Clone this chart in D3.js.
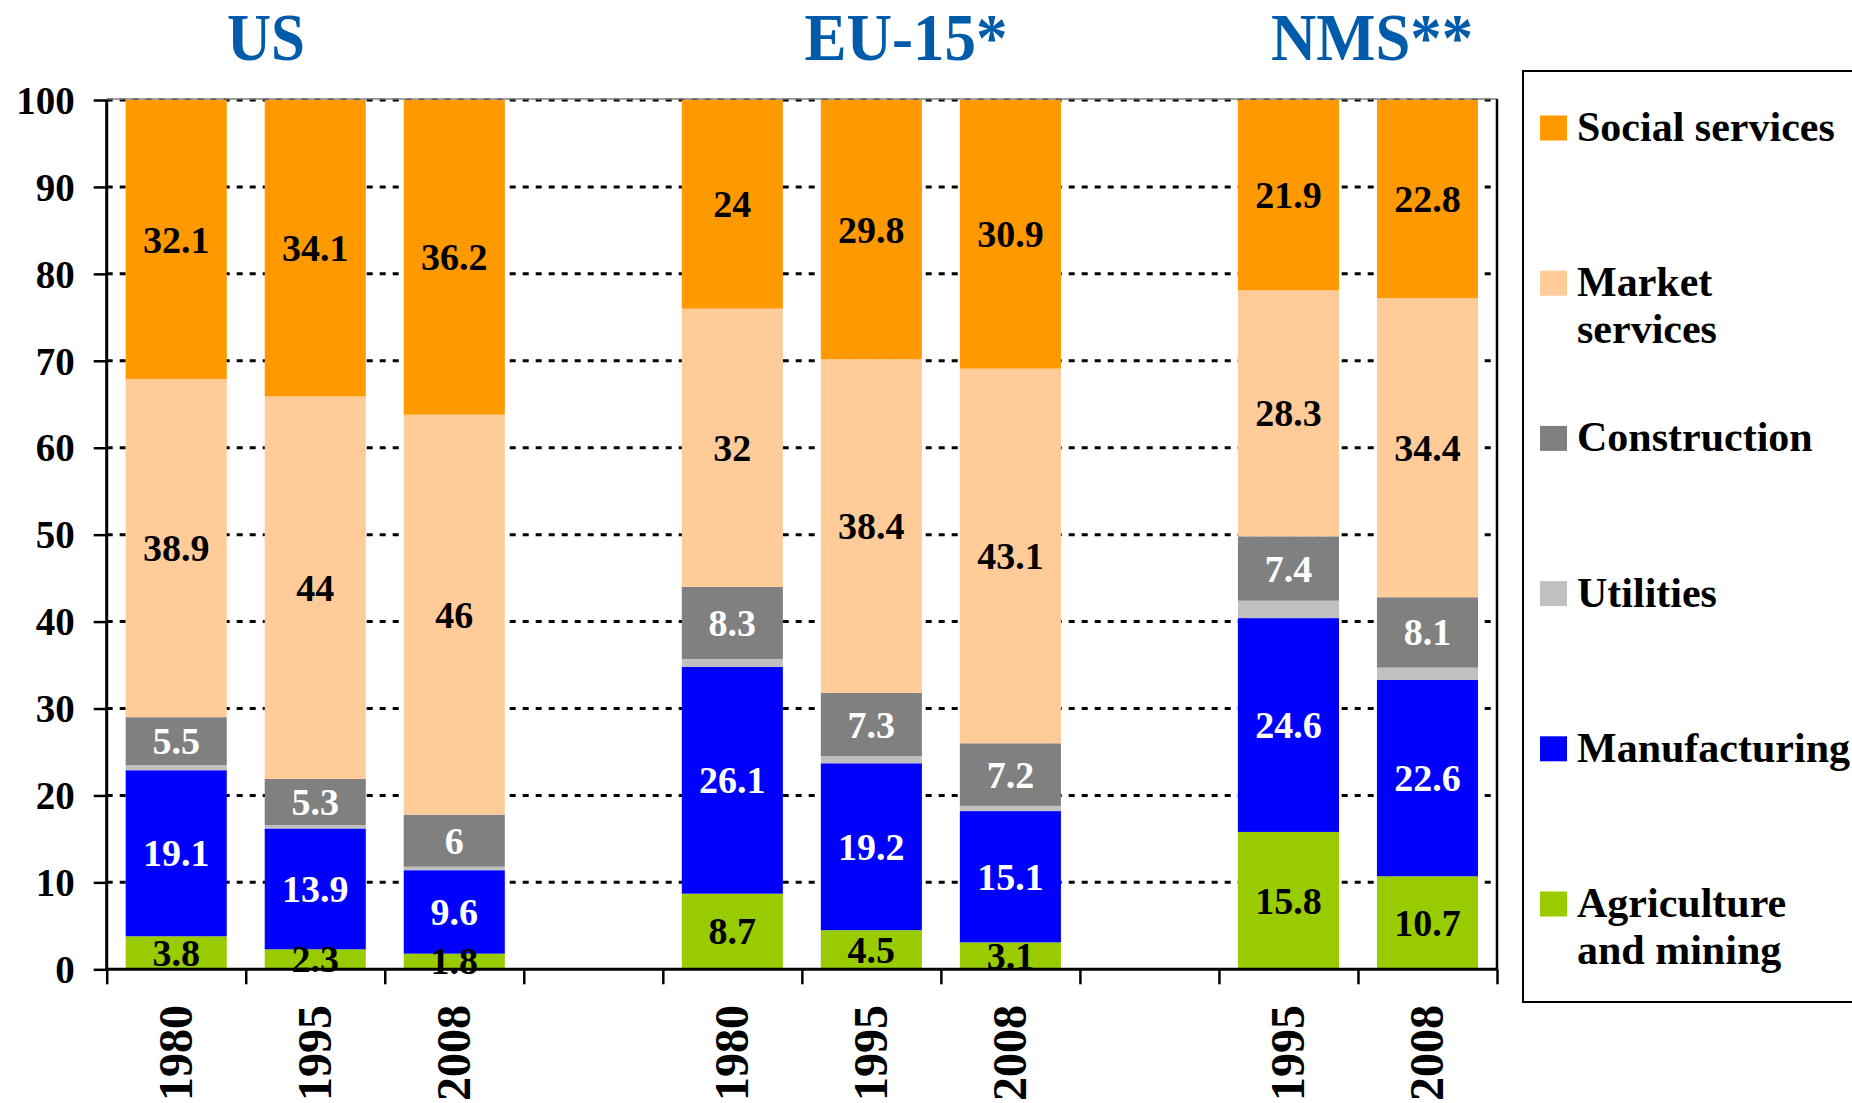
<!DOCTYPE html>
<html>
<head>
<meta charset="utf-8">
<script src="https://cdn.jsdelivr.net/npm/d3@7"></script>
<style>
  body { margin: 0; background: #fff; }
  text { font-family: "Liberation Serif", "Times New Roman", serif; font-weight: bold; }
</style>
</head>
<body>
<script>
// slots along the x axis (the gap slots separate the groups)
var slots = ["US 1980", "US 1995", "US 2008", "gap1", "EU 1980", "EU 1995", "EU 2008", "gap2", "NMS 1995", "NMS 2008"];
var years = ["1980", "1995", "2008", "", "1980", "1995", "2008", "", "1995", "2008"];
var groups = ["US", "EU-15*", "NMS**"];

// sector shares, bottom to top
var agriculture   = [3.8, 2.3, 1.8, null, 8.7, 4.5, 3.1, null, 15.8, 10.7];
var manufacturing = [19.1, 13.9, 9.6, null, 26.1, 19.2, 15.1, null, 24.6, 22.6];
var utilities     = [0.6, 0.4, 0.4, null, 0.9, 0.8, 0.6, null, 2.0, 1.4];
var construction  = [5.5, 5.3, 6, null, 8.3, 7.3, 7.2, null, 7.4, 8.1];
var market        = [38.9, 44, 46, null, 32, 38.4, 43.1, null, 28.3, 34.4];
var social        = [32.1, 34.1, 36.2, null, 24, 29.8, 30.9, null, 21.9, 22.8];

var yTicks = [0, 10, 20, 30, 40, 50, 60, 70, 80, 90, 100];

var series = [
  {name: "Agriculture and mining", lines: ["Agriculture", "and mining"], values: agriculture, color: "#99CC00", text: "#000"},
  {name: "Manufacturing", lines: ["Manufacturing"], values: manufacturing, color: "#0000FF", text: "#fff"},
  {name: "Utilities", lines: ["Utilities"], values: utilities, color: "#C0C0C0", text: null},
  {name: "Construction", lines: ["Construction"], values: construction, color: "#808080", text: "#fff"},
  {name: "Market services", lines: ["Market", "services"], values: market, color: "#FFCC99", text: "#000"},
  {name: "Social services", lines: ["Social services"], values: social, color: "#FF9900", text: "#000"}
];

var W = 1852, H = 1103;
var plotL = 106.7, plotR = 1497, plotT = 100, plotB = 969.3;

var svg = d3.select("body").append("svg")
    .attr("width", W)
    .attr("height", H);

svg.append("rect").attr("width", W).attr("height", H).attr("fill", "#fff");

var x = d3.scaleBand()
    .domain(slots)
    .range([plotL, plotR])
    .paddingInner(0.273)
    .paddingOuter(0.1365);

var xEdge = d3.scaleLinear().domain([0, slots.length]).range([plotL, plotR]);

var y = d3.scaleLinear()
    .domain([0, 100])
    .range([plotB, plotT]);

// gridlines
svg.append("g")
    .selectAll("line")
    .data(yTicks.filter(function (d) { return d > 0; }))
    .enter().append("line")
    .attr("x1", plotL)
    .attr("x2", plotR)
    .attr("y1", function (d) { return y(d); })
    .attr("y2", function (d) { return y(d); })
    .attr("stroke", "#000")
    .attr("stroke-width", 3)
    .attr("stroke-dasharray", "6,7");

svg.append("line")
    .attr("x1", plotL).attr("x2", plotR)
    .attr("y1", plotT - 1).attr("y2", plotT - 1)
    .attr("stroke", "#808080")
    .attr("stroke-width", 1.5);

// stacked bars
var rows = slots.map(function (s, i) {
  var r = {slot: s};
  series.forEach(function (se) { r[se.name] = se.values[i] || 0; });
  return r;
}).filter(function (r, i) { return agriculture[i] != null; });

var stack = d3.stack().keys(series.map(function (s) { return s.name; }));
var layers = stack(rows);

var layerG = svg.append("g").selectAll("g")
    .data(layers)
    .enter().append("g")
    .attr("fill", function (d, i) { return series[i].color; });

layerG.selectAll("rect")
    .data(function (d) { return d; })
    .enter().append("rect")
    .attr("x", function (d) { return x(d.data.slot); })
    .attr("width", x.bandwidth())
    .attr("y", function (d) { return y(d[1]); })
    .attr("height", function (d) { return y(d[0]) - y(d[1]); });

// value labels
layers.forEach(function (layer, i) {
  var se = series[i];
  if (!se.text) return;
  svg.append("g").selectAll("text")
      .data(layer)
      .enter().append("text")
      .attr("x", function (d) { return x(d.data.slot) + x.bandwidth() / 2; })
      .attr("y", function (d) { return y((d[0] + d[1]) / 2) + 13; })
      .attr("text-anchor", "middle")
      .attr("font-size", 38)
      .attr("fill", se.text)
      .text(function (d) { return d.data[se.name]; });
});

// y axis
var yAxis = d3.axisLeft(y).tickValues(yTicks).tickSize(13).tickPadding(19);
var yg = svg.append("g")
    .attr("transform", "translate(" + plotL + ",0)")
    .call(yAxis);
yg.select(".domain").attr("stroke-width", 3).attr("d", "M0," + plotT + "V" + plotB);
yg.selectAll(".tick line").attr("stroke-width", 2.5);
yg.selectAll(".tick text")
    .attr("font-size", 39)
    .attr("font-family", "Liberation Serif, serif")
    .attr("fill", "#000")
    .attr("dy", "0.34em");

// x axis, ticks at slot boundaries
var xAxis = d3.axisBottom(xEdge).tickValues(d3.range(0, slots.length + 1)).tickSize(15).tickFormat("");
var xg = svg.append("g")
    .attr("transform", "translate(0," + plotB + ")")
    .call(xAxis);
xg.select(".domain").attr("stroke-width", 3).attr("d", "M" + plotL + ",0H" + plotR);
xg.selectAll(".tick line").attr("stroke-width", 2.5);

// right border
svg.append("line")
    .attr("x1", plotR).attr("x2", plotR)
    .attr("y1", plotT - 1).attr("y2", plotB)
    .attr("stroke", "#000")
    .attr("stroke-width", 2.5);

// year labels
svg.append("g").selectAll("text")
    .data(slots)
    .enter().append("text")
    .attr("transform", function (d) {
      return "translate(" + (x(d) + x.bandwidth() / 2 + 16) + ",1005) rotate(-90)";
    })
    .attr("text-anchor", "end")
    .attr("font-size", 48)
    .text(function (d, i) { return years[i]; });

// group titles
var titleX = [266, 906, 1372];
var titleW = [78, 203, 202];
svg.append("g").selectAll("text")
    .data(groups)
    .enter().append("text")
    .attr("x", function (d, i) { return titleX[i] - titleW[i] / 2; })
    .attr("y", 60)
    .attr("font-size", 68)
    .attr("fill", "#005BAA")
    .attr("textLength", function (d, i) { return titleW[i]; })
    .attr("lengthAdjust", "spacingAndGlyphs")
    .text(function (d) { return d; });

// legend
svg.append("rect")
    .attr("x", 1523)
    .attr("y", 71)
    .attr("width", 340)
    .attr("height", 931)
    .attr("fill", "#fff")
    .attr("stroke", "#000")
    .attr("stroke-width", 2);

var legendY = d3.scalePoint()
    .domain(series.map(function (s) { return s.name; }).reverse())
    .range([128, 904]);

var leg = svg.append("g").selectAll("g")
    .data(series)
    .enter().append("g")
    .attr("transform", function (d) { return "translate(1540," + legendY(d.name) + ")"; });

leg.append("rect")
    .attr("x", 0)
    .attr("y", -12.5)
    .attr("width", 27)
    .attr("height", 25)
    .attr("fill", function (d) { return d.color; });

leg.append("text")
    .attr("x", 37)
    .attr("y", 13)
    .attr("font-size", 42)
    .selectAll("tspan")
    .data(function (d) { return d.lines; })
    .enter().append("tspan")
    .attr("x", 37)
    .attr("dy", function (d, i) { return i === 0 ? 0 : 47; })
    .text(function (d) { return d; });
</script>
</body>
</html>
